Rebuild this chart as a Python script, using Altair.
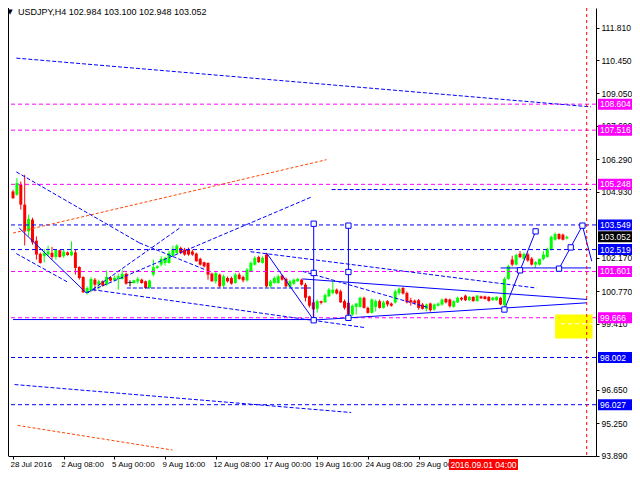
import altair as alt
import pandas as pd

# ---------------- candles (H4 bars, index 0 = 28 Jul 2016) ----------------
opens = [104.95, 104.81, 105.23, 104.40, 103.28, 103.77, 102.89, 102.34, 102.24, 102.31,
         102.38, 102.21, 102.49, 102.24, 102.40, 102.28, 102.40, 101.79, 101.37, 100.71,
         100.81, 101.26, 101.05, 101.19, 101.05, 101.35, 101.23, 101.29, 101.29, 101.51,
         101.14, 101.12, 101.18, 101.26, 101.19, 100.91, 101.47, 101.75, 101.89, 101.96,
         101.96, 102.26, 102.38, 102.59, 102.52, 102.54, 102.44, 102.35, 102.13, 101.99,
         101.96, 101.51, 101.19, 101.47, 101.01, 101.33, 101.33, 101.12, 101.47, 101.37,
         101.23, 101.61, 101.89, 102.21, 101.96, 102.31, 100.98, 101.12, 101.12, 101.43,
         101.29, 100.96, 101.09, 101.19, 101.26, 101.05, 100.56, 100.31, 100.04, 100.36,
         100.31, 100.56, 100.70, 100.84, 100.77, 100.36, 100.29, 99.80, 100.12, 100.12,
         100.50, 100.08, 99.87, 100.12, 100.36, 100.08, 100.36, 100.26, 100.30, 100.70,
         100.91, 100.70, 100.40, 100.38, 100.40, 100.22, 100.04, 100.26, 100.01, 100.17,
         100.22, 100.45, 100.43, 100.12, 100.31, 100.50, 100.59, 100.40, 100.54, 100.36,
         100.56, 100.56, 100.54, 100.40, 100.40, 100.50, 100.20, 101.29, 102.10, 101.89,
         102.34, 102.13, 102.32, 102.14, 101.89, 101.89, 102.12, 102.21, 102.52, 102.93,
         103.17, 103.14, 102.984]
highs = [105.02, 105.51, 105.37, 105.65, 103.98, 103.85, 103.07, 102.39, 102.54, 102.68,
         102.63, 102.52, 102.52, 102.52, 102.44, 102.86, 102.54, 101.82, 101.40, 100.98,
         101.37, 101.33, 101.26, 101.23, 101.64, 101.40, 101.43, 101.51, 101.68, 101.55,
         101.23, 101.26, 101.37, 101.30, 101.22, 101.26, 102.10, 101.86, 102.24, 102.22,
         102.47, 102.68, 102.74, 102.64, 102.59, 102.60, 102.52, 102.39, 102.18, 102.01,
         101.98, 101.55, 101.61, 101.51, 101.47, 101.39, 101.39, 101.54, 101.55, 101.43,
         101.75, 102.03, 102.24, 102.26, 102.24, 102.38, 101.26, 101.40, 101.47, 101.47,
         101.35, 101.26, 101.30, 101.33, 101.30, 101.12, 100.59, 100.43, 100.43, 100.38,
         100.68, 100.91, 101.19, 100.89, 100.84, 100.43, 100.35, 100.22, 100.28, 100.55,
         100.55, 100.13, 100.47, 100.43, 100.43, 100.38, 100.40, 100.30, 100.84, 100.93,
         100.95, 100.76, 100.50, 100.43, 100.45, 100.28, 100.26, 100.30, 100.26, 100.30,
         100.47, 100.50, 100.47, 100.40, 100.55, 100.54, 100.63, 100.56, 100.56, 100.63,
         100.59, 100.59, 100.56, 100.54, 100.56, 100.54, 101.36, 101.89, 102.26, 102.35,
         102.46, 102.39, 102.39, 102.21, 102.03, 102.14, 102.45, 102.60, 103.10, 103.23,
         103.20, 103.19, 103.100]
lows = [104.64, 104.77, 104.19, 102.69, 103.07, 102.72, 102.10, 101.93, 101.98, 102.24,
        102.10, 102.10, 102.18, 102.17, 102.26, 102.24, 101.47, 101.26, 100.71, 100.64,
        100.73, 100.77, 100.84, 100.97, 101.01, 101.18, 101.19, 100.84, 101.26, 101.05,
        100.98, 101.09, 101.09, 101.09, 100.89, 100.87, 101.40, 101.71, 101.82, 101.85,
        101.93, 102.22, 102.35, 102.33, 102.26, 102.26, 102.26, 102.01, 101.85, 101.76,
        101.26, 101.18, 101.09, 100.93, 100.93, 101.14, 101.05, 101.09, 101.26, 101.15,
        101.18, 101.60, 101.85, 101.96, 101.93, 100.93, 100.89, 101.09, 101.09, 101.22,
        100.93, 100.93, 101.05, 101.18, 101.01, 100.35, 100.09, 99.59, 99.88, 100.22,
        100.29, 100.55, 100.64, 100.64, 100.29, 100.01, 99.66, 99.73, 99.80, 100.09,
        100.05, 99.84, 99.84, 99.93, 100.05, 100.05, 100.13, 100.13, 100.26, 100.62,
        100.64, 100.26, 100.17, 100.22, 100.01, 100.01, 99.93, 99.92, 99.96, 100.13,
        100.17, 100.26, 100.09, 100.09, 100.29, 100.38, 100.36, 100.36, 100.34, 100.34,
        100.45, 100.43, 100.34, 100.38, 100.38, 100.19, 100.01, 101.26, 101.82, 101.85,
        102.17, 102.10, 102.01, 101.85, 101.75, 101.85, 102.07, 102.18, 102.48, 102.89,
        102.93, 102.90, 102.948]
closes = [104.67, 105.30, 104.40, 103.28, 103.80, 102.82, 102.31, 101.96, 102.38, 102.44,
          102.21, 102.49, 102.21, 102.43, 102.29, 102.43, 101.75, 101.33, 100.73, 100.91,
          101.29, 101.05, 101.19, 101.01, 101.37, 101.22, 101.33, 101.40, 101.50, 101.09,
          101.14, 101.23, 101.29, 101.12, 100.91, 101.22, 101.78, 101.82, 102.13, 102.17,
          102.38, 102.54, 102.68, 102.38, 102.31, 102.31, 102.31, 102.03, 101.89, 101.82,
          101.47, 101.19, 101.54, 100.98, 101.40, 101.19, 101.09, 101.47, 101.29, 101.23,
          101.68, 101.96, 102.17, 101.99, 102.17, 100.98, 101.19, 101.33, 101.40, 101.26,
          100.98, 101.19, 101.26, 101.29, 101.05, 100.50, 100.17, 100.01, 100.36, 100.29,
          100.61, 100.84, 100.84, 100.68, 100.31, 100.08, 99.80, 100.17, 100.26, 100.50,
          100.08, 99.87, 100.43, 100.36, 100.08, 100.31, 100.22, 100.17, 100.77, 100.88,
          100.68, 100.31, 100.31, 100.29, 100.08, 100.04, 100.22, 99.98, 100.22, 100.26,
          100.43, 100.31, 100.15, 100.36, 100.50, 100.43, 100.40, 100.54, 100.36, 100.59,
          100.48, 100.45, 100.37, 100.51, 100.54, 100.22, 101.29, 101.82, 101.89, 102.29,
          102.20, 102.34, 102.06, 101.89, 101.99, 102.13, 102.31, 102.54, 103.05, 103.17,
          102.96, 102.93, 103.052]

# ---------------- axes ----------------
x_label_pos = [0, 13, 26, 39, 52, 65, 78, 91, 104]
x_labels = ["28 Jul 2016", "2 Aug 08:00", "5 Aug 00:00", "9 Aug 16:00", "12 Aug 08:00",
            "17 Aug 00:00", "19 Aug 16:00", "24 Aug 08:00", "29 Aug 00:00"]
y_ticks = [93.89, 95.25, 96.65, 99.41, 100.77, 102.17, 104.93,
           106.29, 107.69, 109.05, 110.45, 111.81]

# ---------------- horizontal levels ----------------
level_prices = [108.604, 107.516, 105.248, 101.601, 99.666, 103.549, 102.519, 98.002, 96.027]
level_colors = ["#FF00FF"] * 5 + ["#0000FF"] * 4

# ---------------- trend lines: (bar1, price1, bar2, price2) ----------------
dash_x1 = [0.85, 81.7, 0.85, 32.4, 18.75, 0.4, 60.9, 0.85, 29.2, 74.2, 20.4, 19.2]
dash_p1 = [110.53, 105.03, 105.77, 102.80, 100.71, 96.87, 102.43, 102.35, 100.91, 101.61, 100.84, 100.71]
dash_x2 = [148.2, 148.2, 32.4, 49.2, 76.7, 86.7, 134.2, 14.2, 76.7, 106.7, 90.4, 42.9]
dash_p2 = [108.49, 105.03, 102.80, 101.68, 104.73, 95.70, 100.91, 101.14, 100.91, 100.08, 99.25, 103.44]

solid_x1 = [0.0, 77.1, 74.2, 77.1, 86.0, 65.0, 1.6, 126.0, 140.0, 146.0, 125.0]
solid_p1 = [99.59, 99.57, 101.29, 99.57, 99.66, 102.38, 103.42, 100.01, 101.72, 103.52, 101.75]
solid_x2 = [77.1, 147.1, 147.2, 77.1, 86.0, 77.1, 18.75, 134.0, 146.0, 148.4, 148.2]
solid_p2 = [99.59, 100.29, 100.43, 103.60, 103.52, 99.57, 100.71, 103.28, 103.52, 102.03, 101.75]

orange_x1 = [0.0, 1.2]
orange_p1 = [103.21, 95.16]
orange_x2 = [80.4, 40.9]
orange_p2 = [106.28, 94.13]

square_x = [77.1, 77.1, 77.1, 86.0, 86.0, 86.0, 126.0, 130.0, 134.0, 140.0, 143.0, 146.0]
square_p = [103.60, 101.54, 99.56, 103.52, 101.58, 99.66, 100.01, 101.65, 103.28, 101.72, 102.61, 103.52]

zone_x = [139.0, 148.6]
zone_p = [99.80, 98.80]
zone_mid = 99.41
time_line_bar = 147.1

label_prices = [108.604, 107.516, 105.248, 103.549, 103.052, 102.519, 101.601, 99.666, 98.002, 96.027]
label_colors = ["#FF00FF", "#FF00FF", "#FF00FF", "#0000FF", "#000000", "#0000FF",
                "#FF00FF", "#FF00FF", "#0000FF", "#0000FF"]

FONT = "Liberation Sans"
PLOT_W, PLOT_H = 588, 448
X = alt.Scale(domain=[0, 148.2], nice=False, zero=False)
Y = alt.Scale(domain=[93.88, 112.628], nice=False, zero=False)

label_expr = "[" + ",".join("'%s'" % s for s in x_labels) + "][round(datum.value/13)]"
XAXIS = alt.Axis(values=x_label_pos, labelExpr=label_expr, labelAlign="left", labelFont=FONT,
                 labelFontSize=8, labelColor="black", tickColor="black", tickSize=3,
                 labelPadding=1, labelOffset=-3, domainColor="black", grid=False, title=None,
                 labelFlush=False, labelOverlap=False)
YAXIS = alt.Axis(orient="right", values=y_ticks, format=".3f", labelFont=FONT, labelFontSize=8.5,
                 labelColor="black", tickColor="black", tickSize=3, labelPadding=2,
                 domainColor="black", grid=False, title=None, labelFlush=False, labelOverlap=False)


def ex(field):
    return alt.X(field, scale=X, axis=XAXIS, title=None)


def ey(field):
    return alt.Y(field, scale=Y, axis=YAXIS, title=None)


n = len(opens)
cd = pd.DataFrame({"i": list(range(n)), "o": opens, "h": highs, "l": lows, "c": closes})
cd["col"] = ["#00FF00" if c > o else ("#FF0000" if c < o else "#000000") for o, c in zip(opens, closes)]
doji = cd[(cd["c"] - cd["o"]).abs() < 0.005]

wick = alt.Chart(cd).mark_rule(strokeWidth=1, clip=True).encode(
    x=ex("i:Q"), y=ey("l:Q"), y2="h:Q", color=alt.Color("col:N", scale=None))
body = alt.Chart(cd).mark_bar(size=3, clip=True).encode(
    x=ex("i:Q"), y=ey("o:Q"), y2="c:Q", color=alt.Color("col:N", scale=None))
dj = alt.Chart(doji).mark_tick(orient="horizontal", size=5, thickness=1, color="black").encode(
    x=ex("i:Q"), y=ey("c:Q"))

levels = pd.DataFrame({"p": level_prices, "col": level_colors})
lev = alt.Chart(levels).mark_rule(strokeDash=[4, 3], strokeWidth=1).encode(
    y=ey("p:Q"), color=alt.Color("col:N", scale=None))


def seg_layer(x1, p1, x2, p2, color, dash=None):
    df = pd.DataFrame({"x1": x1, "p1": p1, "x2": x2, "p2": p2})
    kw = dict(color=color, strokeWidth=1, clip=True)
    if dash:
        kw["strokeDash"] = dash
    return alt.Chart(df).mark_rule(**kw).encode(
        x=ex("x1:Q"), x2="x2:Q", y=ey("p1:Q"), y2="p2:Q")


dashed = seg_layer(dash_x1, dash_p1, dash_x2, dash_p2, "#0000FF", [4, 2])
solid = seg_layer(solid_x1, solid_p1, solid_x2, solid_p2, "#0000FF")
orange = seg_layer(orange_x1, orange_p1, orange_x2, orange_p2, "#FF4500", [3, 2])

zone = alt.Chart(pd.DataFrame({"x1": [zone_x[0]], "x2": [zone_x[1]],
                               "p1": [zone_p[0]], "p2": [zone_p[1]]})).mark_rect(
    color="#FFFF00", clip=True).encode(x=ex("x1:Q"), x2="x2:Q", y=ey("p1:Q"), y2="p2:Q")
zone_line = seg_layer([zone_x[0] + 1.5], [zone_mid], [zone_x[1]], [zone_mid], "#FFFFFF", [4, 3])

squares = alt.Chart(pd.DataFrame({"x": square_x, "p": square_p})).mark_square(
    size=28, fill="white", stroke="#0000FF", strokeWidth=1, opacity=1).encode(
    x=ex("x:Q"), y=ey("p:Q"))

vline = alt.Chart(pd.DataFrame({"x": [time_line_bar]})).mark_rule(
    color="#FF0000", strokeDash=[3, 3], strokeWidth=1).encode(x=ex("x:Q"))

lab = pd.DataFrame({"p": label_prices, "col": label_colors,
                    "txt": ["%.3f" % v for v in label_prices]})
boxes = alt.Chart(lab).mark_tick(orient="horizontal", size=35, thickness=11, opacity=1).encode(
    x=alt.value(PLOT_W + 19.5), y=ey("p:Q"), color=alt.Color("col:N", scale=None))
btxt = alt.Chart(lab).mark_text(align="left", baseline="middle", font=FONT, fontSize=8.5,
                                color="white").encode(
    x=alt.value(PLOT_W + 4), y=ey("p:Q"), text="txt:N")

title_txt = "USDJPY,H4  %.3f %.3f %.3f %.3f" % (opens[-1], highs[-1], lows[-1], closes[-1])
title = alt.Chart(pd.DataFrame({"t": [title_txt]})).mark_text(
    align="left", baseline="middle", font=FONT, fontSize=9, color="black").encode(
    x=alt.value(10), y=alt.value(4), text="t:N")
tri = alt.Chart(pd.DataFrame({"t": ["\u25BC"]})).mark_text(
    align="center", baseline="middle", font="DejaVu Sans", fontSize=7, color="black").encode(
    x=alt.value(2), y=alt.value(4), text="t:N")

date_box = alt.Chart(pd.DataFrame({"a": [0]})).mark_rect(color="#FF0000").encode(
    x=alt.value(441), x2=alt.value(510), y=alt.value(PLOT_H + 3), y2=alt.value(PLOT_H + 14))
date_txt = alt.Chart(pd.DataFrame({"t": ["2016.09.01 04:00"]})).mark_text(
    align="center", baseline="middle", font=FONT, fontSize=8.5, color="white").encode(
    x=alt.value(475.5), y=alt.value(PLOT_H + 8.5), text="t:N")

frame = alt.Chart(pd.DataFrame({"a": [0]})).mark_rule(color="black", strokeWidth=1).encode(
    x=alt.value(0.5), y=alt.value(0), y2=alt.value(PLOT_H))

chart = alt.layer(
    wick, body, dj, lev, orange, dashed, solid, zone, zone_line, squares, vline,
    boxes, btxt, title, tri, date_box, date_txt, frame
).properties(
    width=PLOT_W, height=PLOT_H,
    padding={"left": 0, "top": 0, "right": 36, "bottom": 16},
    autosize=alt.AutoSizeParams(type="none"),
    background="white",
).configure_view(stroke=None)

chart.save("out.html", embed_options={"renderer": "svg", "actions": False})
